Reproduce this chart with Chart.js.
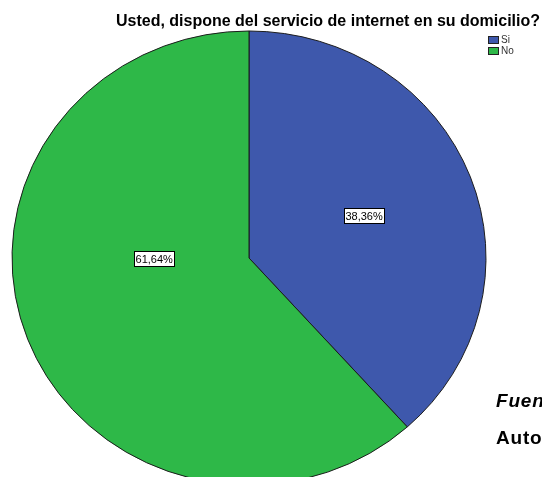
<!DOCTYPE html>
<html>
<head>
<meta charset="utf-8">
<script src="https://cdn.jsdelivr.net/npm/chart.js@4.4.1/dist/chart.umd.min.js"></script>
<style>
  html, body { margin: 0; padding: 0; background: #fff; overflow: hidden; }
  #wrap { position: relative; width: 542px; height: 477px; }
  .note { position: absolute; left: 496px; font-family: "Liberation Sans", Arial, sans-serif;
          font-weight: bold; font-size: 19px; letter-spacing: 0.8px; color: #000; white-space: nowrap; }
</style>
</head>
<body>
<div id="wrap">
  <canvas id="myChart" width="542" height="477"></canvas>
  <div class="note" style="top:390px; font-style:italic;">Fuente:</div>
  <div class="note" style="top:427px;">Autor:</div>
</div>
<script>
const titleText = "Usted, dispone del servicio de internet en su domicilio?";
const labels = ["Si", "No"];
const values = [38.36, 61.64];
const colors = ["#3E58AC", "#2EB848"];

// SPSS pie is a bit wider than tall
const squash = 227 / 237;

const ellipsePlugin = {
  id: "ellipse",
  beforeDatasetsDraw(chart) {
    const arc = chart.getDatasetMeta(0).data[0];
    const ctx = chart.ctx;
    ctx.save();
    ctx.translate(arc.x, arc.y);
    ctx.scale(1, squash);
    ctx.translate(-arc.x, -arc.y);
  },
  afterDatasetsDraw(chart) {
    chart.ctx.restore();
  },
};

const textPlugin = {
  id: "texts",
  afterDraw(chart) {
    const ctx = chart.ctx;
    const meta = chart.getDatasetMeta(0);
    ctx.save();
    // title
    ctx.fillStyle = "#000";
    ctx.font = "bold 16px 'Liberation Sans', Arial, sans-serif";
    ctx.textAlign = "center";
    ctx.textBaseline = "alphabetic";
    ctx.fillText(titleText, 328, 26);

    // legend
    ctx.font = "10px 'Liberation Sans', Arial, sans-serif";
    ctx.textAlign = "left";
    ctx.textBaseline = "middle";
    labels.forEach((lab, i) => {
      const y = 36 + i * 11;
      ctx.fillStyle = colors[i];
      ctx.fillRect(488, y, 11, 8);
      ctx.strokeStyle = "#222";
      ctx.lineWidth = 1;
      ctx.strokeRect(488.5, y + 0.5, 10, 7);
      ctx.fillStyle = "#333";
      ctx.fillText(lab, 501, y + 4.5);
    });

    // value labels inside slices
    const place = [{ turn: 0, frac: 0.52 }, { turn: 0.35, frac: 0.4 }];
    ctx.font = "11px 'Liberation Sans', Arial, sans-serif";
    ctx.textAlign = "center";
    meta.data.forEach((arc, i) => {
      const a = (arc.startAngle + arc.endAngle) / 2 + place[i].turn;
      const r = arc.outerRadius * place[i].frac;
      const x = arc.x + Math.cos(a) * r;
      const y = arc.y + Math.sin(a) * r * squash;
      const txt = values[i].toFixed(2).replace(".", ",") + "%";
      const w = Math.round(ctx.measureText(txt).width) + 4;
      const h = 16;
      const bx = Math.round(x - w / 2), by = Math.round(y - h / 2);
      ctx.fillStyle = "#fff";
      ctx.fillRect(bx, by, w, h);
      ctx.strokeStyle = "#000";
      ctx.strokeRect(bx + 0.5, by + 0.5, w - 1, h - 1);
      ctx.fillStyle = "#000";
      ctx.fillText(txt, x, y + 1);
    });
    ctx.restore();
  },
};

const ctx = document.getElementById("myChart").getContext("2d");

const data = {
  labels: labels,
  datasets: [
    {
      data: values,
      backgroundColor: colors,
      borderColor: "#1a1a1a",
      borderWidth: 1,
      radius: 237,
      clip: false,
    },
  ],
};

const config = {
  type: "pie",
  data: data,
  options: {
    responsive: false,
    animation: false,
    layout: {
      padding: { left: 12, right: 56, top: 40, bottom: 1 },
    },
    plugins: {
      legend: { display: false },
      title: { display: false },
      tooltip: { enabled: false },
    },
  },
  plugins: [ellipsePlugin, textPlugin],
};

const myChart = new Chart(ctx, config);
</script>
</body>
</html>
